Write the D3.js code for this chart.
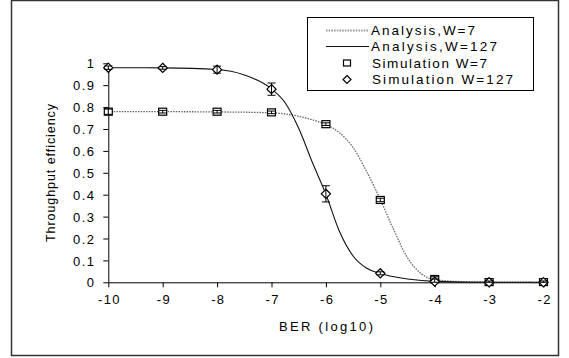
<!DOCTYPE html>
<html>
<head>
<meta charset="utf-8">
<script src="https://cdn.jsdelivr.net/npm/d3@7"></script>
<style>
  body { margin: 0; background: #fff; }
  text { font-family: "Liberation Sans", Arial, sans-serif; fill: #000; }
</style>
</head>
<body>
<div id="chart"></div>
<script>
'use strict';

// BER exponents on the x axis
var berTicks = [-10, -9, -8, -7, -6, -5, -4, -3, -2];
var effTicks = [0, 0.1, 0.2, 0.3, 0.4, 0.5, 0.6, 0.7, 0.8, 0.9, 1];

// Simulation points
var simX = [-10, -9, -8, -7, -6, -5, -4, -3, -2];
var simW7 = [0.779, 0.779, 0.779, 0.776, 0.722, 0.376, 0.015, 0.001, 0.001];
var simW7Err = [0.012, 0.006, 0.006, 0.006, 0.006, 0.008, 0.01, 0.006, 0.006];
var simW127 = [0.98, 0.979, 0.971, 0.882, 0.404, 0.041, 0.003, 0.0, 0.0];
var simW127Err = [0.008, 0.006, 0.016, 0.028, 0.037, 0.007, 0.012, 0.006, 0.006];

// Analysis curves
var anaW7X = [-10, -9, -8, -7, -6.5, -6.25, -6, -5.75, -5.5, -5.25, -5, -4.75, -4.5, -4.25, -4, -3.5, -3, -2];
var anaW7Y = [0.779, 0.779, 0.778, 0.774, 0.758, 0.742, 0.72, 0.683, 0.615, 0.505, 0.378, 0.238, 0.112, 0.04, 0.012, 0.003, 0.001, 0.0];
var anaW127X = [-10, -9, -8, -7.5, -7, -6.75, -6.5, -6.25, -6, -5.75, -5.5, -5.25, -5, -4.75, -4.5, -4, -3, -2];
var anaW127Y = [0.98, 0.979, 0.972, 0.947, 0.883, 0.82, 0.703, 0.548, 0.402, 0.232, 0.12, 0.064, 0.04, 0.025, 0.015, 0.004, 0.0, 0.0];

var legendLabels = ['Analysis,W=7', 'Analysis,W=127', 'Simulation W=7', 'Simulation W=127'];

var width = 569, height = 358;

var svg = d3.select('#chart').append('svg')
  .attr('width', width)
  .attr('height', height);

// outer frame
svg.append('rect')
  .attr('x', 11.5).attr('y', 0.5)
  .attr('width', 547).attr('height', 355)
  .style('fill', '#fff')
  .style('stroke', '#333')
  .style('stroke-width', 1.5);

var x = d3.scaleLinear().domain([-10, -2]).range([108.3, 543.5]);
var y = d3.scaleLinear().domain([0, 1]).range([282.3, 63.3]);

// Axes (hyphen minus like the original, not the unicode minus)
var fmt = function (d) { return String(d); };

var yAxis = svg.append('g')
  .attr('transform', 'translate(' + x(-10) + ',0)')
  .call(d3.axisLeft(y).tickValues(effTicks).tickSize(5).tickSizeOuter(0).tickFormat(fmt));
var xAxis = svg.append('g')
  .attr('transform', 'translate(0,' + y(0) + ')')
  .call(d3.axisBottom(x).tickValues(berTicks).tickSize(5).tickSizeOuter(0).tickFormat(fmt));

[yAxis, xAxis].forEach(function (g) {
  g.select('.domain').style('stroke', '#000').style('stroke-width', 1);
  g.selectAll('.tick line').style('stroke', '#000');
  g.selectAll('.tick text')
    .style('font-size', '13px')
    .style('letter-spacing', '1.4px')
    .style('font-family', '"Liberation Sans", Arial, sans-serif')
    .attr('fill', '#000');
});
yAxis.selectAll('.tick text').attr('x', -13).attr('dy', '0.36em');
xAxis.selectAll('.tick text').attr('y', 12).attr('dx', '0.7px');

// axis titles
svg.append('text')
  .attr('transform', 'translate(55,173) rotate(-90)')
  .attr('text-anchor', 'middle')
  .attr('textLength', 138)
  .attr('lengthAdjust', 'spacing')
  .style('font-size', '12.5px')
  .text('Throughput efficiency');

svg.append('text')
  .attr('x', 326).attr('y', 331)
  .attr('text-anchor', 'middle')
  .attr('textLength', 94)
  .attr('lengthAdjust', 'spacing')
  .style('font-size', '13px')
  .text('BER (log10)');

// Analysis curves
var line = d3.line()
  .x(function (d) { return x(d[0]); })
  .y(function (d) { return y(d[1]); })
  .curve(d3.curveMonotoneX);

var w7Data = anaW7X.map(function (v, i) { return [v, anaW7Y[i]]; });
var w127Data = anaW127X.map(function (v, i) { return [v, anaW127Y[i]]; });

function dottedStyle(sel) {
  sel.style('fill', 'none')
    .style('stroke', '#666')
    .style('stroke-width', 1.3)
    .style('stroke-dasharray', '1.5,1.2');
}
function solidStyle(sel) {
  sel.style('fill', 'none')
    .style('stroke', '#111')
    .style('stroke-width', 1.1);
}

svg.append('path').datum(w7Data).attr('d', line).call(dottedStyle);
svg.append('path').datum(w127Data).attr('d', line).call(solidStyle);

// Simulation markers with error bars
var sq = 4, dm = 4.6;

function errorBars(vals, errs) {
  var g = svg.append('g');
  simX.forEach(function (xv, i) {
    var cx = x(xv), top = y(vals[i] + errs[i]), bot = y(Math.max(0, vals[i] - errs[i]));
    g.append('line').attr('x1', cx).attr('x2', cx).attr('y1', top).attr('y2', bot)
      .style('stroke', '#000').style('stroke-width', 1);
    [top, bot].forEach(function (yy) {
      g.append('line').attr('x1', cx - 4).attr('x2', cx + 4).attr('y1', yy).attr('y2', yy)
        .style('stroke', '#000').style('stroke-width', 1);
    });
  });
}

svg.append('g').selectAll('rect')
  .data(simX.map(function (v, i) { return [v, simW7[i]]; }))
  .enter().append('rect')
  .attr('x', function (d) { return x(d[0]) - sq; })
  .attr('y', function (d) { return y(d[1]) - sq + 0.5; })
  .attr('width', sq * 2).attr('height', sq * 2 - 1)
  .style('fill', '#fff').style('stroke', '#000').style('stroke-width', 1.2);
errorBars(simW7, simW7Err);

svg.append('g').selectAll('path')
  .data(simX.map(function (v, i) { return [v, simW127[i]]; }))
  .enter().append('path')
  .attr('d', function (d) {
    var cx = x(d[0]), cy = y(d[1]);
    return 'M' + cx + ',' + (cy - dm) + 'L' + (cx + dm) + ',' + cy + 'L' + cx + ',' + (cy + dm) + 'L' + (cx - dm) + ',' + cy + 'Z';
  })
  .style('fill', '#fff').style('stroke', '#000').style('stroke-width', 1.2);
errorBars(simW127, simW127Err);

// Legend
var leg = svg.append('g');
leg.append('rect')
  .attr('x', 307.5).attr('y', 17.5)
  .attr('width', 226).attr('height', 73)
  .style('fill', '#fff').style('stroke', '#000').style('stroke-width', 1);

var rowY = [30.5, 46.5, 63, 79.5];
var legTextLen = [104, 126, 115, 141];

leg.append('line').attr('x1', 326).attr('x2', 369).attr('y1', rowY[0]).attr('y2', rowY[0])
  .call(dottedStyle).style('stroke-width', 2.2).style('stroke', '#999');
leg.append('line').attr('x1', 326).attr('x2', 369).attr('y1', rowY[1]).attr('y2', rowY[1])
  .call(solidStyle);
leg.append('rect')
  .attr('x', 347 - 3.5).attr('y', rowY[2] - 3)
  .attr('width', 7).attr('height', 6)
  .style('fill', '#fff').style('stroke', '#000').style('stroke-width', 1.2);
leg.append('path')
  .attr('d', 'M347,' + (rowY[3] - 4) + 'L351,' + rowY[3] + 'L347,' + (rowY[3] + 4) + 'L343,' + rowY[3] + 'Z')
  .style('fill', '#fff').style('stroke', '#000').style('stroke-width', 1.2);

leg.selectAll('text.leg')
  .data(legendLabels)
  .enter().append('text')
  .attr('class', 'leg')
  .attr('x', function (d, i) { return i < 2 ? 371 : 372; })
  .attr('y', function (d, i) { return rowY[i]; })
  .attr('dy', '0.36em')
  .attr('textLength', function (d, i) { return legTextLen[i]; })
  .attr('lengthAdjust', 'spacing')
  .style('font-size', '13.5px')
  .text(function (d) { return d; });
</script>
</body>
</html>
